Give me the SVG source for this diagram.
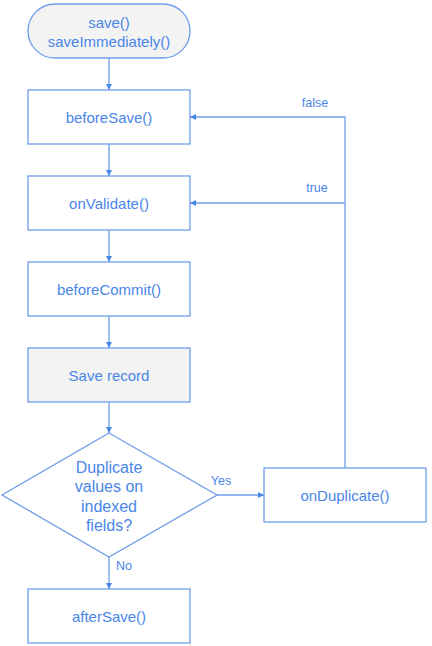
<svg xmlns="http://www.w3.org/2000/svg" width="432" height="646" viewBox="0 0 432 646">
<style>
.n{fill:#fff;stroke:#6d9eeb;stroke-width:1.3}
.g{fill:#f3f3f3}
.t{font-family:"Liberation Sans",Arial,sans-serif;font-size:15px;fill:#4a86e8;text-anchor:middle;dominant-baseline:central}
.d{font-size:16px}
.l{font-family:"Liberation Sans",Arial,sans-serif;font-size:12.5px;fill:#4a86e8;text-anchor:middle;dominant-baseline:central}
.c{fill:none;stroke:#6d9eeb;stroke-width:1.3}
</style>
<defs>
<marker id="a" viewBox="0 0 10 10" refX="10" refY="5" markerWidth="6" markerHeight="6" markerUnits="userSpaceOnUse" orient="auto">
<path d="M0,0L10,5L0,10z" fill="#4a86e8"/>
</marker>
</defs>
<g id="connectors">
<path class="c" d="M109,58V90" marker-end="url(#a)"/>
<path class="c" d="M109,144V176" marker-end="url(#a)"/>
<path class="c" d="M109,230V262" marker-end="url(#a)"/>
<path class="c" d="M109,316V348" marker-end="url(#a)"/>
<path class="c" d="M109,402V433" marker-end="url(#a)"/>
<path class="c" d="M109,557V589" marker-end="url(#a)"/>
<path class="c" d="M217,495H264" marker-end="url(#a)"/>
<path class="c" d="M345,468V117H190" marker-end="url(#a)"/>
<path class="c" d="M345,203H190" marker-end="url(#a)"/>
<text class="l" x="315" y="103">false</text>
<text class="l" x="317" y="188">true</text>
<text class="l" x="221" y="481">Yes</text>
<text class="l" x="124" y="566">No</text>
</g>
<g id="start">
<rect class="n g" x="28" y="4" width="162" height="54" rx="27"/>
<text class="t" x="109" y="22">save()</text>
<text class="t" x="109" y="41">saveImmediately()</text>
</g>
<g id="beforeSave">
<rect class="n" x="28" y="90" width="162" height="54"/>
<text class="t" x="109" y="117">beforeSave()</text>
</g>
<g id="onValidate">
<rect class="n" x="28" y="176" width="162" height="54"/>
<text class="t" x="109" y="203">onValidate()</text>
</g>
<g id="beforeCommit">
<rect class="n" x="28" y="262" width="162" height="54"/>
<text class="t" x="109" y="289">beforeCommit()</text>
</g>
<g id="saveRecord">
<rect class="n g" x="28" y="348" width="162" height="54"/>
<text class="t" x="109" y="375">Save record</text>
</g>
<g id="decision">
<polygon class="n" points="109,433 217,495 109,557 2,495"/>
<text class="t d" x="109" y="467">Duplicate</text>
<text class="t d" x="109" y="486.5">values on</text>
<text class="t d" x="109" y="506">indexed</text>
<text class="t d" x="109" y="525.5">fields?</text>
</g>
<g id="onDuplicate">
<rect class="n" x="264" y="468" width="162" height="54"/>
<text class="t" x="345" y="495">onDuplicate()</text>
</g>
<g id="afterSave">
<rect class="n" x="28" y="589" width="162" height="54"/>
<text class="t" x="109" y="616">afterSave()</text>
</g>
</svg>
